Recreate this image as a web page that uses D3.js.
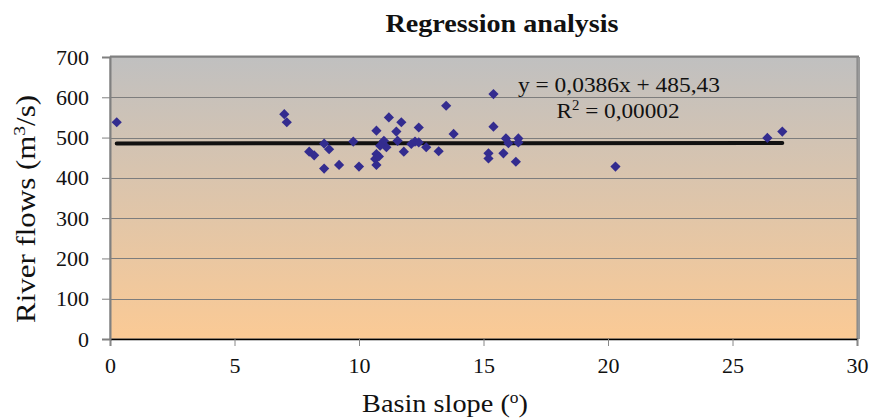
<!DOCTYPE html>
<html>
<head>
<meta charset="utf-8">
<script src="https://cdn.jsdelivr.net/npm/d3@7"></script>
<style>
  body { margin: 0; background: #fff; }
  text { font-family: "Liberation Serif", "Times New Roman", serif; fill: #111; }
</style>
</head>
<body>
<div id="holder"></div>
<script>
// basin slope (degrees) and river flow (m3/s)
const slopes = [0.27, 7.0, 7.1, 8.0, 8.2, 8.6, 8.6, 8.8, 9.2, 9.77, 10.0, 10.7, 11.2, 11.7, 11.5,
                12.4, 11.0, 11.1, 10.85, 11.55, 10.7, 10.65, 10.7, 10.8, 11.8, 12.1, 12.25, 12.4,
                12.7, 13.2, 13.5, 13.8, 15.4, 15.4, 15.2, 15.2, 15.8, 15.9, 16.0, 16.4, 16.4,
                16.3, 20.3, 26.4, 27.0];
const flows = [538, 558, 538, 465, 456, 423, 485, 471, 432, 490, 428, 517, 550, 538, 515,
               525, 492, 476, 480, 492, 459, 447, 432, 453, 465, 484, 490, 488,
               476, 466, 579, 509, 608, 527, 461, 448, 461, 498, 486, 498, 488,
               440, 428, 499, 515];

const xTicks = [0, 5, 10, 15, 20, 25, 30];
const yTicks = [0, 100, 200, 300, 400, 500, 600, 700];

// trendline from the chart's own equation
const slope = 0.0386;
const intercept = 485.43;

const width = 872, height = 418;
const plotL = 110, plotR = 857, plotT = 57, plotB = 339;

const svg = d3.select("#holder").append("svg")
    .attr("width", width)
    .attr("height", height);

const x = d3.scaleLinear().domain([0, 30]).range([plotL, plotR]);
const y = d3.scaleLinear().domain([0, 700]).range([plotB, plotT]);

const grad = svg.append("defs").append("linearGradient")
    .attr("id", "bg").attr("x1", 0).attr("y1", 0).attr("x2", 0).attr("y2", 1);
grad.append("stop").attr("offset", "0%").attr("stop-color", "#c0c0c0");
grad.append("stop").attr("offset", "100%").attr("stop-color", "#fbca95");

// right-side shadow
svg.append("rect")
    .attr("x", plotL).attr("y", plotT)
    .attr("width", plotR - plotL + 3).attr("height", plotB - plotT)
    .attr("fill", "#9a9a9a");

svg.append("rect")
    .attr("x", plotL).attr("y", plotT)
    .attr("width", plotR - plotL).attr("height", plotB - plotT)
    .attr("fill", "url(#bg)")
    .attr("stroke", "#808080")
    .attr("stroke-width", 1);

svg.append("line")
    .attr("x1", plotL).attr("x2", plotR + 2)
    .attr("y1", plotT - 0.5).attr("y2", plotT - 0.5)
    .attr("stroke", "#808080").attr("stroke-width", 2);

// gridlines
svg.append("g").selectAll("line")
    .data(yTicks.filter(d => d > 0 && d < 700))
    .enter().append("line")
    .attr("x1", plotL).attr("x2", plotR)
    .attr("y1", d => Math.round(y(d)) + 0.5)
    .attr("y2", d => Math.round(y(d)) + 0.5)
    .attr("stroke", "#7d7d7d")
    .attr("stroke-width", 1);

// axes
const xAxis = d3.axisBottom(x).tickValues(xTicks).tickSize(7).tickPadding(11);
const yAxis = d3.axisLeft(y).tickValues(yTicks).tickSize(8).tickPadding(13);

const gx = svg.append("g")
    .attr("transform", `translate(0, ${plotB})`)
    .call(xAxis);
gx.select(".domain").attr("stroke", "#000").attr("stroke-width", 1.5);
gx.selectAll(".tick line").attr("stroke", "#888");
gx.selectAll(".tick text")
    .style("font-family", "'Liberation Serif', serif")
    .style("font-size", "22px")
    .attr("fill", "#111");

const gy = svg.append("g")
    .attr("transform", `translate(${plotL}, 0)`)
    .call(yAxis);
gy.select(".domain").attr("stroke", "#808080").attr("stroke-width", 2);
gy.selectAll(".tick line").attr("stroke", "#808080");
gy.selectAll(".tick text")
    .style("font-family", "'Liberation Serif', serif")
    .style("font-size", "22px")
    .attr("fill", "#111");

// trendline
const xs = d3.extent(slopes);
svg.append("line")
    .attr("x1", x(xs[0])).attr("x2", x(xs[1]))
    .attr("y1", y(slope * xs[0] + intercept))
    .attr("y2", y(slope * xs[1] + intercept))
    .attr("stroke", "#111")
    .attr("stroke-width", 4)
    .attr("stroke-linecap", "round");

// points
const diamond = d3.symbol(d3.symbolSquare).size(52);
svg.append("g").selectAll("path")
    .data(slopes.map((s, i) => [s, flows[i]]))
    .enter().append("path")
    .attr("d", diamond)
    .attr("transform", d => `translate(${x(d[0])}, ${y(d[1])}) rotate(45)`)
    .attr("fill", "#332c8f");

// equation
svg.append("text")
    .attr("x", 619).attr("y", 92)
    .attr("text-anchor", "middle")
    .attr("textLength", 202)
    .attr("lengthAdjust", "spacingAndGlyphs")
    .style("font-size", "22px")
    .text("y = 0,0386x + 485,43");

const r2 = svg.append("text")
    .attr("x", 618).attr("y", 118)
    .attr("text-anchor", "middle")
    .attr("textLength", 123)
    .attr("lengthAdjust", "spacingAndGlyphs")
    .style("font-size", "22px");
r2.append("tspan").text("R");
r2.append("tspan").attr("dy", -8).style("font-size", "14px").text("2");
r2.append("tspan").attr("dy", 8).text(" = 0,00002");

// title
svg.append("text")
    .attr("x", 502).attr("y", 32)
    .attr("text-anchor", "middle")
    .attr("textLength", 233)
    .attr("lengthAdjust", "spacingAndGlyphs")
    .style("font-size", "26px")
    .style("font-weight", "bold")
    .text("Regression analysis");

// axis titles
const xl = svg.append("text")
    .attr("x", 445).attr("y", 412)
    .attr("text-anchor", "middle")
    .attr("textLength", 166)
    .attr("lengthAdjust", "spacingAndGlyphs")
    .style("font-size", "26px");
xl.append("tspan").text("Basin slope (");
xl.append("tspan").attr("dy", -9).style("font-size", "16px").text("o");
xl.append("tspan").attr("dy", 9).text(")");

const yl = svg.append("text")
    .attr("transform", "translate(35, 209) rotate(-90)")
    .attr("text-anchor", "middle")
    .attr("textLength", 228)
    .attr("lengthAdjust", "spacingAndGlyphs")
    .style("font-size", "27px");
yl.append("tspan").text("River flows (m");
yl.append("tspan").attr("dy", -10).style("font-size", "17px").text("3");
yl.append("tspan").attr("dy", 10).text("/s)");
</script>
</body>
</html>
